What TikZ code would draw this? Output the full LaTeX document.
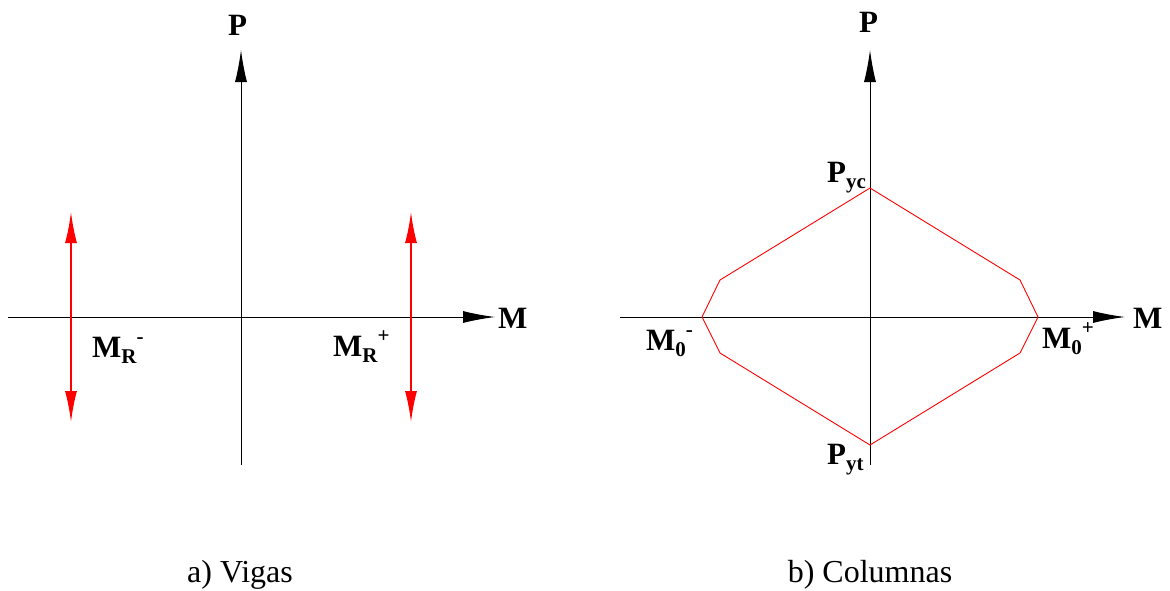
\documentclass[tikz,border=0pt]{standalone}
\usepackage{fontspec}
\setmainfont{Liberation Serif}
\usetikzlibrary{arrows.meta}
\newcommand\lsub[1]{\raisebox{-0.22em}{\fontsize{21}{21}\selectfont #1}}
\newcommand\lsup[1]{\raisebox{0.42em}{\fontsize{21}{21}\selectfont #1}}
\tikzset{
  axis/.style={line width=1pt,-{Latex[length=32pt,width=12pt]}},
  rarrow/.style={red,line width=1.6pt,{Latex[length=31pt,width=12pt]}-{Latex[length=31pt,width=12pt]}},
  curve/.style={red,line width=0.9pt,line join=miter},
  lbl/.style={inner sep=0pt,anchor=base west,font=\fontsize{31}{31}\selectfont\bfseries},
  captext/.style={inner sep=0pt,anchor=base,font=\fontsize{32}{32}\selectfont}
}
\begin{document}
\begin{tikzpicture}[x=1pt,y=-1pt]
\useasboundingbox (0,0) rectangle (1170,590);
% left panel
\coordinate (aL) at (8,317);
\coordinate (aR) at (495,317);
\coordinate (aB) at (241,465);
\coordinate (aT) at (241,50);
\draw[axis] (aL) -- (aR);
\draw[axis] (aB) -- (aT);
\coordinate (r1t) at (71,212);
\coordinate (r1b) at (71,422);
\coordinate (r2t) at (411,212);
\coordinate (r2b) at (411,422);
\draw[rarrow] (r1t) -- (r1b);
\draw[rarrow] (r2t) -- (r2b);
\node[lbl] (pA) at (228,35) {P};
\node[lbl] (mA) at (498,328) {M};
\node[lbl] (mrm) at (92,357) {M\lsub{R}\lsup{-}};
\node[lbl] (mrp) at (333,356) {M\lsub{R}\lsup{+}};
\node[captext] (capA) at (240,582) {a) Vigas};
% right panel
\coordinate (bL) at (620,317);
\coordinate (bR) at (1125,317);
\coordinate (bB) at (870,465);
\coordinate (bT) at (870,50);
\draw[axis] (bL) -- (bR);
\draw[axis] (bB) -- (bT);
\coordinate (pyc) at (870,188);
\coordinate (s1) at (1020,280);
\coordinate (m0p) at (1038,317);
\coordinate (s2) at (1020,353);
\coordinate (pyt) at (870,445);
\coordinate (s3) at (720,353);
\coordinate (m0m) at (702,317);
\coordinate (s4) at (720,280);
\draw[curve] (pyc) -- (s1) -- (m0p) -- (s2) -- (pyt) -- (s3) -- (m0m) -- (s4) -- cycle;
\node[lbl] (pB) at (859,32) {P};
\node[lbl] (mB) at (1133,328) {M};
\node[lbl] (lpyc) at (827,182) {P\lsub{yc}};
\node[lbl] (lpyt) at (827,464) {P\lsub{yt}};
\node[lbl] (lm0m) at (646,350) {M\lsub{0}\lsup{-}};
\node[lbl] (lm0p) at (1042,348) {M\lsub{0}\lsup{+}};
\node[captext] (capB) at (870,582) {b) Columnas};
\end{tikzpicture}
\end{document}
